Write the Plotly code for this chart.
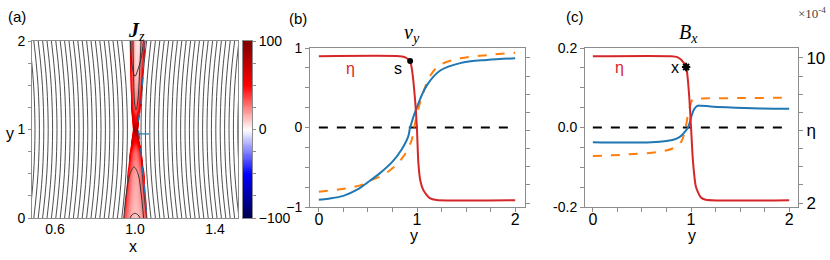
import numpy as np
import plotly.graph_objects as go

W, H = 830, 260

# ---------------- data: panel (b) v_y ----------------
VY_SIM_X = [0, 0.1, 0.25, 0.385, 0.52, 0.62, 0.75, 0.84, 0.91, 0.93, 1.0, 1.1, 1.24, 1.44, 1.71, 2.0]
VY_SIM = [-0.91, -0.895, -0.86, -0.786, -0.669, -0.577, -0.43, -0.283, -0.115, 0.0, 0.26, 0.53, 0.72, 0.81, 0.85, 0.87]
VY_TH_X = [0, 0.28, 0.45, 0.52, 0.62, 0.75, 0.86, 0.946, 0.97, 1.04, 1.14, 1.24, 1.44, 1.71, 2.0]
VY_TH = [-0.807, -0.765, -0.715, -0.669, -0.62, -0.514, -0.367, -0.157, 0.0, 0.35, 0.66, 0.79, 0.87, 0.91, 0.94]
ETA_B_X = [0, 0.82, 0.87, 0.9, 0.93, 0.95, 0.98, 1.0, 1.014, 1.035, 1.065, 1.13, 1.2, 2.0]
ETA_B = [10.1, 10.1, 10.05, 9.97, 9.83, 9.3, 7.7, 6.0, 4.2, 3.2, 2.7, 2.27, 2.17, 2.15]
S_POINT = (0.93, 9.83)

# ---------------- data: panel (c) B_x ----------------
BX_SIM_X = [0, 0.3, 0.6, 0.75, 0.82, 0.89, 0.94, 0.97, 1.0, 1.03, 1.06, 1.1, 1.2, 1.36, 1.7, 2.0]
BX_SIM = [-0.037, -0.038, -0.037, -0.034, -0.031, -0.023, -0.01, 0.0, 0.025, 0.045, 0.054, 0.055, 0.053, 0.051, 0.048, 0.047]
BX_TH_X = [0, 0.34, 0.68, 0.82, 0.9, 0.94, 0.98, 1.02, 1.1, 1.5, 2.0]
BX_TH = [-0.072, -0.068, -0.061, -0.052, -0.036, -0.006, 0.044, 0.071, 0.073, 0.074, 0.075]
ETA_C_X = [0, 0.8, 0.86, 0.9, 0.95, 0.98, 1.0, 1.02, 1.05, 1.1, 1.15, 2.0]
ETA_C = [10.1, 10.1, 10.05, 9.9, 9.5, 8.0, 6.2, 4.3, 2.9, 2.3, 2.18, 2.15]
X_POINT = (0.95, 9.5)

# ---------------- data: panel (a) J_z ----------------
JZ_Y = [0, 0.25, 0.5, 0.75, 0.9, 1.0, 1.1, 1.25, 1.5, 1.75, 2.0]
JZ_LEFT = [0.945, 0.955, 0.963, 0.975, 0.985, 0.99, 0.987, 0.982, 0.978, 0.976, 0.975]
JZ_RIGHT = [1.06, 1.052, 1.045, 1.03, 1.018, 1.012, 1.018, 1.025, 1.035, 1.042, 1.05]
JZ_EDGE = [40, 45, 50, 60, 75, 85, 75, 65, 60, 60, 60]
JZ_CENTER = [12, 15, 18, 30, 55, 85, 55, 30, 15, 8, 5]
CBAR_TICKS = [-100, 0, 100]

FIELD_X_LEFT = [0.50, 0.522, 0.544, 0.566, 0.588, 0.61, 0.632, 0.654, 0.676, 0.698, 0.72, 0.742,
                0.764, 0.786, 0.808, 0.83, 0.852, 0.874, 0.896, 0.918, 0.94, 0.962]
FIELD_X_RIGHT = [1.03, 1.052, 1.074, 1.096, 1.118, 1.14, 1.162, 1.184, 1.206, 1.228, 1.25, 1.272,
                 1.294, 1.316, 1.338, 1.36, 1.382, 1.404, 1.426, 1.448, 1.47, 1.492, 1.514]
FIELD_Y = [0, 0.25, 0.5, 0.75, 1.0, 1.25, 1.5, 1.75, 2.0]
FIELD_SPREAD = [0.028, 0.016, 0.007, 0.002, 0.0, 0.002, 0.007, 0.016, 0.028]

CONTOURS = [
    ([0.977, 0.982, 0.99, 1.0, 1.012, 1.03, 1.043], [2.0, 1.8, 1.66, 1.6, 1.66, 1.8, 2.0]),
    ([0.99, 0.993, 0.998, 1.005, 1.013, 1.022, 1.03], [2.0, 1.6, 1.3, 1.22, 1.3, 1.6, 2.0]),
    ([0.944, 0.955, 0.975, 0.995, 1.015, 1.032, 1.043], [0.0, 0.25, 0.5, 0.576, 0.5, 0.25, 0.0]),
    ([0.975, 0.985, 1.0, 1.015, 1.025], [0.0, 0.035, 0.053, 0.035, 0.0]),
]
SEP_X = [1.045, 1.04, 1.03, 1.015, 1.02, 1.04, 1.06]
SEP_Y = [2.0, 1.6, 1.3, 1.05, 0.95, 0.5, 0.0]
SEG_X = [1.02, 1.07]
SEG_Y = [0.95, 0.95]

# ---------------- colours ----------------
RED = "#d62728"
BLUE = "#1f77b4"
ORANGE = "#ff7f0e"
GRID = "#8c8c8c"
SEISMIC = [[0.0, "#00004c"], [0.25, "#0000ff"], [0.5, "#ffffff"], [0.75, "#ff0000"], [1.0, "#800000"]]


def px(x):
    return x / W


def py(y):
    return 1 - y / H


fig = go.Figure()

# ---- J_z image ----
gx = np.linspace(0.48, 1.52, 521)
gy = np.linspace(0, 2, 201)
L = np.interp(gy, JZ_Y, JZ_LEFT)
R = np.interp(gy, JZ_Y, JZ_RIGHT)
E = np.interp(gy, JZ_Y, JZ_EDGE)
C = np.interp(gy, JZ_Y, JZ_CENTER)
z = np.zeros((gy.size, gx.size))
for i in range(gy.size):
    mid = 0.5 * (L[i] + R[i])
    half = 0.5 * (R[i] - L[i])
    d = np.abs(gx - mid) / half
    inside = C[i] + (E[i] - C[i]) * np.clip(d, 0, 1) ** 2
    fall = np.clip(1 - (d - 1) * half / 0.004, 0, 1)
    z[i] = np.where(d <= 1, inside, inside * fall)

fig.add_trace(go.Heatmap(x=gx, y=gy, z=z, zmin=-100, zmax=100, colorscale=SEISMIC, zsmooth="best",
                         xaxis="x", yaxis="y", showscale=False, hoverinfo="skip"))

# colour bar drawn as its own small heatmap (no margin push)
cb_vals = np.linspace(CBAR_TICKS[0], CBAR_TICKS[-1], 201)
fig.add_trace(go.Heatmap(x=[0], y=cb_vals, z=cb_vals.reshape(-1, 1), zmin=-100, zmax=100, colorscale=SEISMIC,
                         zsmooth="best", xaxis="x4", yaxis="y6", showscale=False, hoverinfo="skip"))

fy = np.array(FIELD_Y)
fs = np.array(FIELD_SPREAD)
for xm in FIELD_X_LEFT:
    fig.add_trace(go.Scatter(x=xm - fs, y=fy, mode="lines", line=dict(color="#3a3a3a", width=0.9, shape="spline"),
                             xaxis="x", yaxis="y", showlegend=False, hoverinfo="skip"))
for xm in FIELD_X_RIGHT:
    fig.add_trace(go.Scatter(x=xm + fs, y=fy, mode="lines", line=dict(color="#3a3a3a", width=0.9, shape="spline"),
                             xaxis="x", yaxis="y", showlegend=False, hoverinfo="skip"))
for cx, cy in CONTOURS:
    fig.add_trace(go.Scatter(x=cx, y=cy, mode="lines", line=dict(color="#333333", width=1, shape="spline"),
                             xaxis="x", yaxis="y", showlegend=False, hoverinfo="skip"))
fig.add_trace(go.Scatter(x=SEP_X, y=SEP_Y, mode="lines", line=dict(color=BLUE, width=1.2, dash="dash", shape="spline"),
                         xaxis="x", yaxis="y", showlegend=False, hoverinfo="skip"))
fig.add_trace(go.Scatter(x=SEG_X, y=SEG_Y, mode="lines", line=dict(color=BLUE, width=1.2),
                         xaxis="x", yaxis="y", showlegend=False, hoverinfo="skip"))

# ---- panel (b) ----
fig.add_trace(go.Scatter(x=[0, 2], y=[0, 0], mode="lines", line=dict(color="black", width=2, dash="dash"),
                         xaxis="x2", yaxis="y2", showlegend=False))
fig.add_trace(go.Scatter(x=VY_TH_X, y=VY_TH, mode="lines", line=dict(color=ORANGE, width=2, dash="dash", shape="spline"),
                         xaxis="x2", yaxis="y2", showlegend=False))
fig.add_trace(go.Scatter(x=VY_SIM_X, y=VY_SIM, mode="lines", line=dict(color=BLUE, width=2, shape="spline"),
                         xaxis="x2", yaxis="y2", showlegend=False))
fig.add_trace(go.Scatter(x=ETA_B_X, y=ETA_B, mode="lines", line=dict(color=RED, width=2, shape="spline", smoothing=0.6),
                         xaxis="x2", yaxis="y3", showlegend=False))
fig.add_trace(go.Scatter(x=[S_POINT[0]], y=[S_POINT[1]], mode="markers", marker=dict(color="black", size=6),
                         xaxis="x2", yaxis="y3", showlegend=False))

# ---- panel (c) ----
fig.add_trace(go.Scatter(x=[0, 2], y=[0, 0], mode="lines", line=dict(color="black", width=2, dash="dash"),
                         xaxis="x3", yaxis="y4", showlegend=False))
fig.add_trace(go.Scatter(x=BX_TH_X, y=BX_TH, mode="lines", line=dict(color=ORANGE, width=2, dash="dash", shape="spline"),
                         xaxis="x3", yaxis="y4", showlegend=False))
fig.add_trace(go.Scatter(x=BX_SIM_X, y=BX_SIM, mode="lines", line=dict(color=BLUE, width=2, shape="spline"),
                         xaxis="x3", yaxis="y4", showlegend=False))
fig.add_trace(go.Scatter(x=ETA_C_X, y=ETA_C, mode="lines", line=dict(color=RED, width=2, shape="spline", smoothing=0.6),
                         xaxis="x3", yaxis="y5", showlegend=False))
fig.add_trace(go.Scatter(x=[X_POINT[0]], y=[X_POINT[1]], mode="markers",
                         marker=dict(color="black", size=7, symbol="asterisk-open", line=dict(color="black", width=2)),
                         xaxis="x3", yaxis="y5", showlegend=False))

tickfont_s = dict(family="Liberation Sans", size=14, color="black")
tickfont_m = dict(family="Liberation Sans", size=16, color="black")
tickfont_l = dict(family="Liberation Sans", size=17, color="black")
frame = dict(showline=True, linecolor=GRID, linewidth=1, showgrid=False, zeroline=False, automargin=False)


def minor(dt, tl=3):
    return dict(tickmode="linear", tick0=0, dtick=dt, ticks="outside", ticklen=tl, tickcolor=GRID, showgrid=False)


fig.update_layout(
    width=W, height=H, margin=dict(l=0, r=0, t=0, b=0, autoexpand=False),
    paper_bgcolor="white", plot_bgcolor="white", showlegend=False,
    xaxis=dict(domain=[px(32), px(238)], range=[0.485, 1.515], anchor="y", mirror=True,
               tickvals=[0.6, 1.0, 1.4], ticktext=["0.6", "1.0", "1.4"], ticks="", tickfont=tickfont_s,
               ticklabelstandoff=-2, **frame),
    yaxis=dict(domain=[py(218), py(41)], range=[0, 2], anchor="x", mirror=True,
               tickvals=[0, 1, 2], ticks="outside", ticklen=3, minor=minor(0.25),
               tickcolor=GRID, tickfont=tickfont_s, **frame),
    xaxis4=dict(domain=[px(243), px(252)], range=[-0.5, 0.5], anchor="y6", mirror=True,
                showticklabels=False, ticks="", **frame),
    yaxis6=dict(domain=[py(218), py(41)], range=[-100, 100], anchor="x4", side="right", mirror=True,
                tickvals=CBAR_TICKS, ticks="outside", ticklen=3, tickcolor=GRID, minor=minor(25),
                tickfont=tickfont_s, **frame),
    xaxis2=dict(domain=[px(310), px(525)], range=[-0.09, 2.1], anchor="y2", mirror=True,
                tickvals=[0, 1, 2], ticks="outside", ticklen=4, tickcolor=GRID, minor=minor(0.25, 4),
                tickfont=tickfont_m, ticklabelstandoff=-6, **frame),
    yaxis2=dict(domain=[py(207), py(48)], range=[-1, 1], anchor="x2",
                tickvals=[-1, 0, 1], ticks="outside", ticklen=4, tickcolor=GRID, minor=minor(0.25, 4),
                tickfont=tickfont_s, **frame),
    yaxis3=dict(overlaying="y2", side="right", anchor="x2", range=[1.78, 10.55],
                tickvals=[2, 3, 4, 5, 6, 7, 8, 9, 10], showticklabels=False, ticks="outside", ticklen=4,
                tickcolor=GRID, **frame),
    xaxis3=dict(domain=[px(585), px(798)], range=[-0.08, 2.09], anchor="y4", mirror=True,
                tickvals=[0, 1, 2], ticks="outside", ticklen=4, tickcolor=GRID, minor=minor(0.25, 4),
                tickfont=tickfont_m, ticklabelstandoff=-6, **frame),
    yaxis4=dict(domain=[py(207), py(48)], range=[-0.2, 0.2], anchor="x3",
                tickvals=[-0.2, 0, 0.2], ticktext=["-0.2", "0.0", "0.2"], ticks="outside", ticklen=4,
                tickcolor=GRID, minor=minor(0.05, 4), tickfont=tickfont_s, **frame),
    yaxis5=dict(overlaying="y4", side="right", anchor="x3", range=[1.78, 10.55],
                tickvals=[2, 6, 10], ticktext=["2", "η", "10"], minor=minor(1, 4),
                ticks="outside", ticklen=4, tickcolor=GRID, tickfont=tickfont_l, **frame),
)

sans = "Liberation Sans"
serif = "Liberation Serif"
ann = [
    ("(a)", 17, 17, 15, sans, "black", "center"),
    ("(b)", 298, 19, 15, sans, "black", "center"),
    ("(c)", 575, 17, 15, sans, "black", "center"),
    ("<b><i>J</i></b><sub><i>z</i></sub>", 136, 31, 20, serif, "black", "center"),
    ("<i>v</i><sub><i>y</i></sub>", 412, 34, 20, serif, "black", "center"),
    ("<i>B</i><sub><i>x</i></sub>", 688, 34, 20, serif, "black", "center"),
    ("×10<sup>-4</sup>", 828, 13, 13, serif, "#444444", "right"),
    ("x", 133, 246, 16, sans, "black", "center"),
    ("y", 10, 133, 16, sans, "black", "center"),
    ("y", 414, 235, 16, sans, "black", "center"),
    ("y", 692, 235, 16, sans, "black", "center"),
    ("η", 350, 69, 16, sans, RED, "center"),
    ("s", 398, 69, 16, sans, "black", "center"),
    ("η", 619, 67, 16, sans, RED, "center"),
    ("x", 675, 68, 16, sans, "black", "center"),
]
for t, x, y, s, f, c, xa in ann:
    fig.add_annotation(text=t, x=px(x), y=py(y), xref="paper", yref="paper", showarrow=False,
                       xanchor=xa, yanchor="middle", font=dict(family=f, size=s, color=c))

fig.write_html("out.html", config={"displayModeBar": False},
               post_script="document.body.style.margin='0px';document.body.style.padding='0px';")
